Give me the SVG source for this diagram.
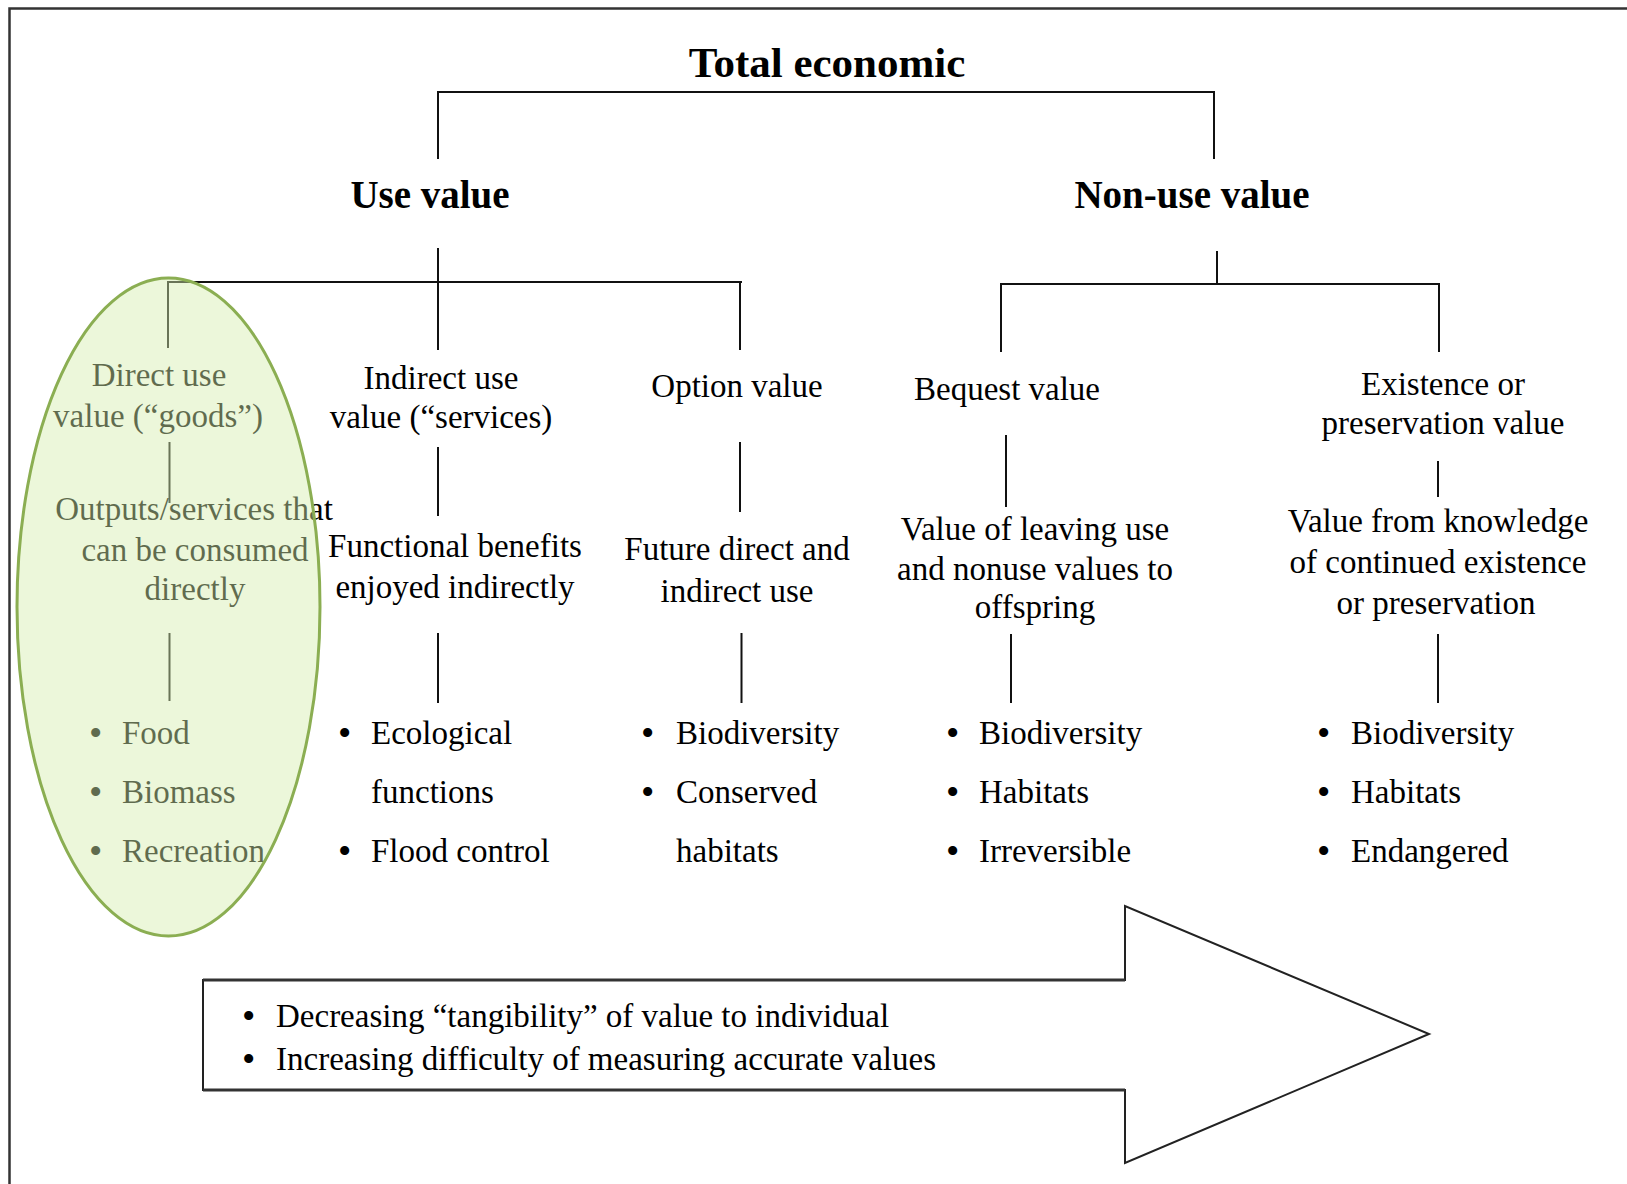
<svg xmlns="http://www.w3.org/2000/svg" width="1627" height="1184" viewBox="0 0 1627 1184">
<style>
text{font-family:"Liberation Serif","Times New Roman",serif;fill:#000}
.t{font-size:43px;font-weight:bold;text-anchor:middle}
.h{font-size:39px;font-weight:bold;text-anchor:middle}
.l{font-size:33px;text-anchor:middle}
.b{font-size:33px}
.d{font-size:38px}
.ln{stroke:#111;stroke-width:2;fill:none}
</style>
<rect width="1627" height="1184" fill="#fff"/>
<path d="M9.5,1184 V8.5 H1627" fill="none" stroke="#333" stroke-width="2.5"/>

<g id="connectors" class="ln">
<path d="M438,159 V92 H1214 V159"/>
<path d="M438,248 V350 M168,348 V282 H742 M740,282 V350"/>
<path d="M1217,251 V284 M1001,352 V284 H1439 V352"/>
<path d="M169.5,442 V503 M438,447 V516 M740,442 V512 M1006,435 V507 M1438,461 V497"/>
<path d="M169.5,633 V701 M438,633 V703 M741.5,633 V703 M1011,634 V703 M1438,634 V703"/>
</g>

<g id="total"><text class="t" x="827" y="77">Total economic</text></g>
<g id="use"><text class="h" x="430" y="208">Use value</text></g>
<g id="nonuse"><text class="h" x="1192" y="208">Non-use value</text></g>

<g id="direct">
<text class="l" x="159" y="386">Direct use</text>
<text class="l" x="158" y="427">value (“goods”)</text>
<text class="l" x="194" y="520">Outputs/services that</text>
<text class="l" x="195" y="561">can be consumed</text>
<text class="l" x="195" y="600">directly</text>
<text class="d" x="89" y="746">•</text><text class="b" x="122" y="744">Food</text>
<text class="d" x="89" y="805">•</text><text class="b" x="122" y="803">Biomass</text>
<text class="d" x="89" y="864">•</text><text class="b" x="122" y="862">Recreation</text>
</g>

<g id="indirect">
<text class="l" x="441" y="389">Indirect use</text>
<text class="l" x="441" y="428">value (“services)</text>
<text class="l" x="455" y="557">Functional benefits</text>
<text class="l" x="455" y="598">enjoyed indirectly</text>
<text class="d" x="338" y="746">•</text><text class="b" x="371" y="744">Ecological</text>
<text class="b" x="371" y="803">functions</text>
<text class="d" x="338" y="864">•</text><text class="b" x="371" y="862">Flood control</text>
</g>

<g id="option">
<text class="l" x="737" y="397">Option value</text>
<text class="l" x="737" y="560">Future direct and</text>
<text class="l" x="737" y="602">indirect use</text>
<text class="d" x="641" y="746">•</text><text class="b" x="676" y="744">Biodiversity</text>
<text class="d" x="641" y="805">•</text><text class="b" x="676" y="803">Conserved</text>
<text class="b" x="676" y="862">habitats</text>
</g>

<g id="bequest">
<text class="l" x="1007" y="400">Bequest value</text>
<text class="l" x="1035" y="540">Value of leaving use</text>
<text class="l" x="1035" y="580">and nonuse values to</text>
<text class="l" x="1035" y="618">offspring</text>
<text class="d" x="946" y="746">•</text><text class="b" x="979" y="744">Biodiversity</text>
<text class="d" x="946" y="805">•</text><text class="b" x="979" y="803">Habitats</text>
<text class="d" x="946" y="864">•</text><text class="b" x="979" y="862">Irreversible</text>
</g>

<g id="existence">
<text class="l" x="1443" y="395">Existence or</text>
<text class="l" x="1443" y="434">preservation value</text>
<text class="l" x="1438" y="532">Value from knowledge</text>
<text class="l" x="1438" y="573">of continued existence</text>
<text class="l" x="1436" y="614">or preservation</text>
<text class="d" x="1317" y="746">•</text><text class="b" x="1351" y="744">Biodiversity</text>
<text class="d" x="1317" y="805">•</text><text class="b" x="1351" y="803">Habitats</text>
<text class="d" x="1317" y="864">•</text><text class="b" x="1351" y="862">Endangered</text>
</g>

<g id="highlight">
<ellipse cx="168.5" cy="607" rx="151.5" ry="329" fill="#D4EDAE" fill-opacity="0.45" stroke="#8BAE52" stroke-width="3"/>
</g>

<g id="arrow">
<path d="M203,980 H1125 V906 L1429,1034 L1125,1163 V1090 H203 Z" fill="#fff" stroke="#222" stroke-width="2"/>
<path d="M203,980 H1125 M203,1090 H1125" stroke="#333" stroke-width="3"/>
<text class="d" x="242" y="1029">•</text><text class="b" x="276" y="1027">Decreasing “tangibility” of value to individual</text>
<text class="d" x="242" y="1072">•</text><text class="b" x="276" y="1070">Increasing difficulty of measuring accurate values</text>
</g>
</svg>
